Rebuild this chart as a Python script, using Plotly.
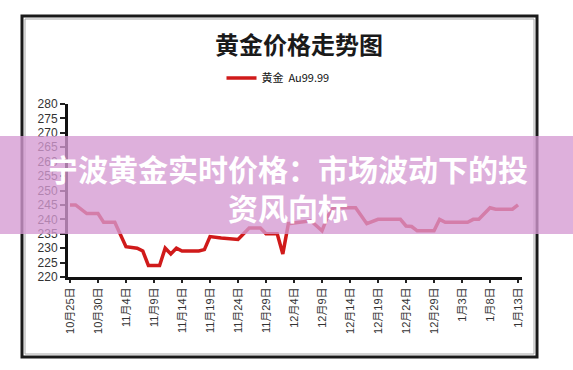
import plotly.graph_objects as go

# ---- data -------------------------------------------------------------
dates = [
    "2014-10-25", "2014-10-26", "2014-10-28", "2014-10-30", "2014-10-31",
    "2014-11-02", "2014-11-04", "2014-11-06", "2014-11-07", "2014-11-08",
    "2014-11-10", "2014-11-11", "2014-11-12", "2014-11-13", "2014-11-14",
    "2014-11-17", "2014-11-18", "2014-11-19", "2014-11-21", "2014-11-24",
    "2014-11-26", "2014-11-28", "2014-11-29", "2014-12-01", "2014-12-02",
    "2014-12-03", "2014-12-05", "2014-12-07", "2014-12-09", "2014-12-10",
    "2014-12-11", "2014-12-15", "2014-12-17", "2014-12-19", "2014-12-23",
    "2014-12-24", "2014-12-25", "2014-12-26", "2014-12-29", "2014-12-30",
    "2014-12-31", "2015-01-04", "2015-01-05", "2015-01-06", "2015-01-08",
    "2015-01-09", "2015-01-12", "2015-01-13",
]
prices = [
    245.0, 245.0, 242.0, 242.0, 239.0,
    239.0, 230.5, 230.0, 229.0, 224.0,
    224.0, 230.0, 228.0, 230.0, 229.0,
    229.0, 229.5, 234.0, 233.5, 233.0,
    237.0, 237.0, 235.0, 235.0, 228.0,
    238.5, 239.0, 239.5, 236.0, 241.0,
    244.0, 244.0, 238.5, 240.0, 240.0,
    237.7, 237.5, 236.0, 236.0, 240.0,
    239.0, 239.0, 240.0, 240.0, 244.0,
    243.5, 243.5, 245.0,
]
tick_dates = [
    "2014-10-25", "2014-10-30", "2014-11-04", "2014-11-09", "2014-11-14",
    "2014-11-19", "2014-11-24", "2014-11-29", "2014-12-04", "2014-12-09",
    "2014-12-14", "2014-12-19", "2014-12-24", "2014-12-29", "2015-01-03",
    "2015-01-08", "2015-01-13",
]
tick_labels = [
    "10月25日", "10月30日", "11月4日", "11月9日", "11月14日",
    "11月19日", "11月24日", "11月29日", "12月4日", "12月9日",
    "12月14日", "12月19日", "12月24日", "12月29日", "1月3日",
    "1月8日", "1月13日",
]
y_ticks = [220, 225, 230, 235, 240, 245, 250, 255, 260, 265, 270, 275, 280]

series_name = "黄金  Au99.99"
chart_title = "<b>黄金价格走势图</b>"
banner_text = "<b>宁波黄金实时价格：市场波动下的投<br>资风向标</b>"

# ---- layout geometry (pixels) ----------------------------------------
W, H = 573, 370
ML, MR, MT, MB = 68, 51, 104, 93
PW, PH = W - ML - MR, H - MT - MB


def px_x(px):
    return (px - ML) / PW


def px_y(py):
    return (H - MB - py) / PH


CJK = "Noto Sans CJK SC"
NUM = "Liberation Sans, Noto Sans CJK SC"

fig = go.Figure()
fig.add_trace(go.Scatter(
    x=dates, y=prices, mode="lines", name=series_name,
    line=dict(color="#d01a1a", width=3.5),
))

fig.update_layout(
    width=W, height=H,
    margin=dict(l=ML, r=MR, t=MT, b=MB),
    paper_bgcolor="white", plot_bgcolor="white",
    title=dict(text=chart_title, x=299 / W, y=1 - 46 / H,
               xref="container", yref="container",
               xanchor="center", yanchor="middle",
               font=dict(family=CJK, size=24, color="#1a1a1a")),
    showlegend=True,
    legend=dict(orientation="h", x=px_x(278), y=px_y(78),
                xanchor="center", yanchor="middle",
                font=dict(family=CJK, size=11, color="#111"),
                itemwidth=30, bgcolor="rgba(0,0,0,0)"),
    xaxis=dict(
        type="date",
        range=["2014-10-24 15:30", "2015-01-13 17:00"],
        tickvals=tick_dates, ticktext=tick_labels, tickangle=-90,
        ticks="outside", ticklen=3, tickwidth=2, tickcolor="#222",
        showline=True, linecolor="#111", linewidth=3,
        showgrid=False, zeroline=False,
        tickfont=dict(family=NUM, size=11, color="#333"),
    ),
    yaxis=dict(
        range=[220, 280], tickvals=y_ticks,
        ticks="outside", ticklen=5, tickwidth=2, tickcolor="#222",
        showline=True, linecolor="#111", linewidth=3,
        showgrid=False, zeroline=False,
        tickfont=dict(family=NUM, size=12, color="#333"),
    ),
)

# outer frame around the chart
fig.add_shape(type="rect", xref="paper", yref="paper",
              x0=px_x(22), x1=px_x(537), y0=px_y(357), y1=px_y(16),
              line=dict(color="#1a1a1a", width=3), fillcolor="rgba(0,0,0,0)",
              layer="above")
fig.add_shape(type="rect", xref="paper", yref="paper",
              x0=px_x(25), x1=px_x(534), y0=px_y(354), y1=px_y(19),
              line=dict(color="#a8a8a8", width=1), fillcolor="rgba(0,0,0,0)",
              layer="above")

# translucent headline banner across the chart
fig.add_shape(type="rect", xref="paper", yref="paper",
              x0=px_x(0), x1=px_x(W), y0=px_y(234), y1=px_y(136),
              line=dict(width=0), fillcolor="rgba(213,154,210,0.78)",
              layer="above")
fig.add_annotation(xref="paper", yref="paper",
                   x=px_x(288), y=px_y(187), xanchor="center", yanchor="middle",
                   text=banner_text, showarrow=False, align="center",
                   font=dict(family=CJK, size=30, color="white"))

fig.write_html("out.html")
